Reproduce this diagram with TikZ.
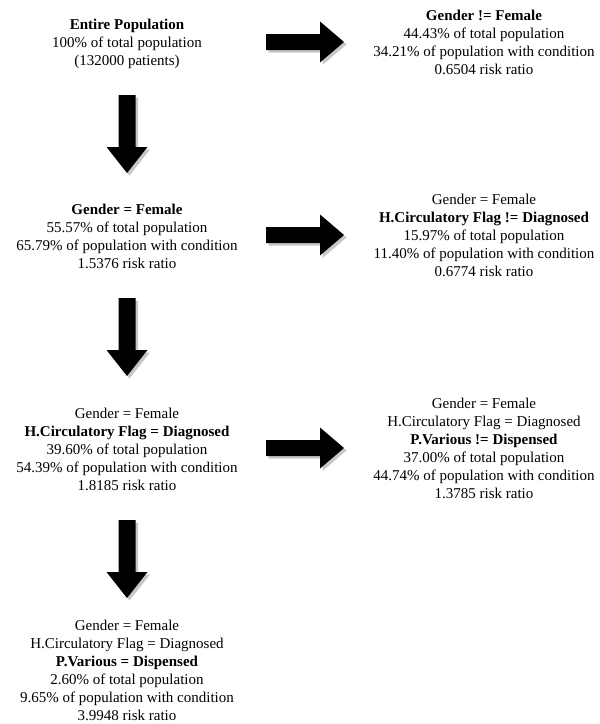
\documentclass[tikz,border=0pt]{standalone}
\usepackage{fontspec}
\setmainfont{Liberation Serif}
\usetikzlibrary{calc}
\tikzset{
  txt/.style={align=center, inner sep=0pt, font=\fontsize{15}{18}\selectfont, text=black},
  arrowfill/.style={fill=black},
  shadowfill/.style={fill=black!22},
  pics/rarrow/.style={code={
    \fill[shadowfill] (2.5,-5.5) -- (56.5,-5.5) -- (56.5,-18) -- (80.5,2.5) -- (56.5,23) -- (56.5,10.5) -- (2.5,10.5) -- cycle;
    \fill[arrowfill] (0,-8) -- (54,-8) -- (54,-20.5) -- (78,0) -- (54,20.5) -- (54,8) -- (0,8) -- cycle;
  }},
  pics/darrow/.style={code={
    \fill[shadowfill] (-6,2.5) -- (11,2.5) -- (11,54.5) -- (23,54.5) -- (2.5,80.5) -- (-18,54.5) -- (-6,54.5) -- cycle;
    \fill[arrowfill] (-8.5,0) -- (8.5,0) -- (8.5,52) -- (20.5,52) -- (0,78) -- (-20.5,52) -- (-8.5,52) -- cycle;
  }}
}
\begin{document}
\begin{tikzpicture}[x=1pt,y=-1pt]
\useasboundingbox[fill=white] (0,0) rectangle (600,724);

\node[txt] (b1) at (127,43.5) {\textbf{Entire Population}\\100\% of total population\\(132000 patients)};
\node[txt] (b2) at (484,42) {\textbf{Gender != Female}\\44.43\% of total population\\34.21\% of population with condition\\0.6504 risk ratio};
\node[txt] (b3) at (127,236) {\textbf{Gender = Female}\\55.57\% of total population\\65.79\% of population with condition\\1.5376 risk ratio};
\node[txt] (b4) at (484,235) {Gender = Female\\\textbf{H.Circulatory Flag != Diagnosed}\\15.97\% of total population\\11.40\% of population with condition\\0.6774 risk ratio};
\node[txt] (b5) at (127,449) {Gender = Female\\\textbf{H.Circulatory Flag = Diagnosed}\\39.60\% of total population\\54.39\% of population with condition\\1.8185 risk ratio};
\node[txt] (b6) at (484,448.5) {Gender = Female\\H.Circulatory Flag = Diagnosed\\\textbf{P.Various != Dispensed}\\37.00\% of total population\\44.74\% of population with condition\\1.3785 risk ratio};
\node[txt] (b7) at (127,670.5) {Gender = Female\\H.Circulatory Flag = Diagnosed\\\textbf{P.Various = Dispensed}\\2.60\% of total population\\9.65\% of population with condition\\3.9948 risk ratio};

\coordinate (r1) at (266,42);
\coordinate (r2) at (266,235);
\coordinate (r3) at (266,448);
\coordinate (d1) at (127,95);
\coordinate (d2) at (127,298);
\coordinate (d3) at (127,520);

\pic at (r1) {rarrow};
\pic at (r2) {rarrow};
\pic at (r3) {rarrow};
\pic at (d1) {darrow};
\pic at (d2) {darrow};
\pic at (d3) {darrow};
\end{tikzpicture}
\end{document}
